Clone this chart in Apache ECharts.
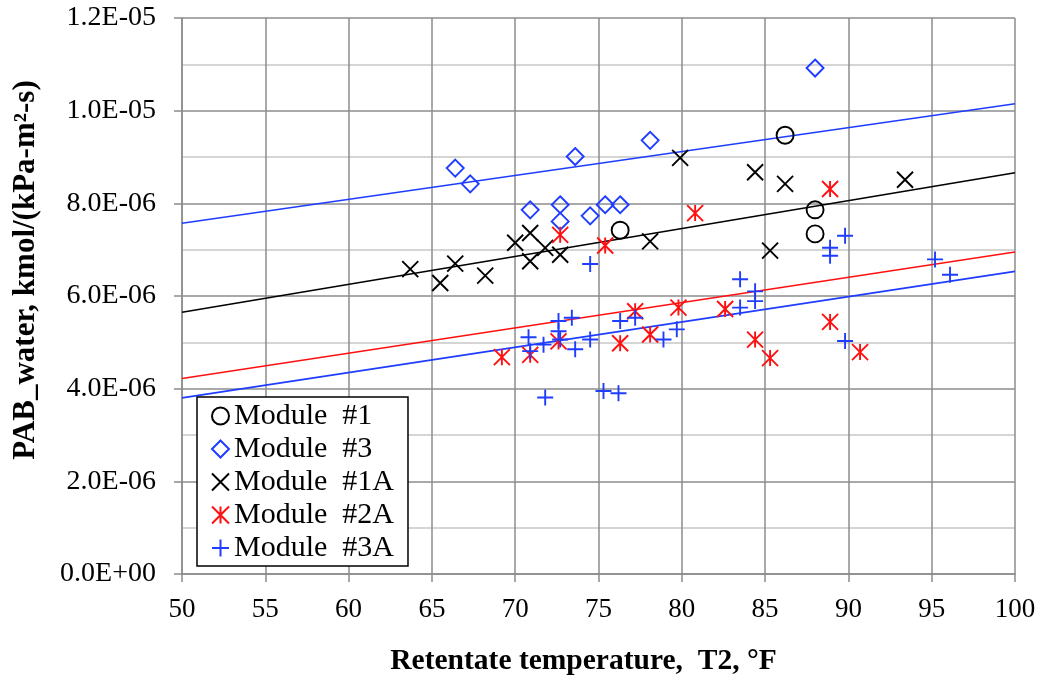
<!DOCTYPE html>
<html>
<head>
<meta charset="utf-8">
<script src="https://cdn.jsdelivr.net/npm/echarts@6/dist/echarts.min.js"></script>
<style>
  html, body { margin: 0; padding: 0; background: #fff; }
  #chart { width: 1046px; height: 681px; }
</style>
</head>
<body>
<div id="chart"></div>
<script>
// Water permeance vs. retentate temperature, per module (values in 1E-06 kmol/(kPa-m²-s))
const module1T = [76.3, 86.2, 88.0, 88.0];
const module1P = [7.42, 9.47, 7.86, 7.34];

const module3T = [66.4, 67.3, 70.9, 72.7, 72.7, 73.6, 74.5, 75.4, 76.3, 78.1, 88.0];
const module3P = [8.76, 8.42, 7.86, 7.97, 7.61, 9.01, 7.73, 7.97, 7.97, 9.36, 10.92];

const module1AT = [63.7, 65.5, 66.4, 68.2, 70.0, 70.9, 70.9, 71.8, 72.7, 78.1, 79.9, 84.4, 85.3, 86.2, 93.4];
const module1AP = [6.58, 6.28, 6.70, 6.44, 7.15, 7.36, 6.75, 7.04, 6.89, 7.18, 8.98, 8.67, 6.98, 8.42, 8.51];

const module2AT = [69.2, 70.9, 72.6, 72.7, 75.4, 76.3, 77.2, 78.1, 79.8, 80.8, 82.6, 84.4, 85.3, 88.9, 88.9, 90.7];
const module2AP = [4.68, 4.73, 5.02, 7.32, 7.09, 4.98, 5.67, 5.17, 5.75, 7.79, 5.72, 5.06, 4.66, 5.44, 8.31, 4.79];

const module3AT = [70.8, 70.9, 71.7, 72.6, 72.6, 72.7, 73.4, 73.6, 74.5, 71.8, 75.3, 76.2, 76.3, 77.2, 78.9, 79.7,
                   83.5, 84.4, 84.4, 83.5, 74.5, 88.9, 88.9, 89.8, 89.8, 95.2, 96.1];
const module3AP = [5.11, 4.81, 4.95, 5.46, 5.24, 5.06, 5.53, 4.85, 5.06, 3.81, 3.95, 3.90, 5.46, 5.53, 5.06, 5.28,
                   6.36, 6.10, 5.89, 5.75, 6.69, 7.04, 6.87, 7.30, 5.03, 6.79, 6.46];

// Linear trend lines, endpoints at T2 = 50 and 100 °F
const trendT = [50, 100];
const trend3P = [7.57, 10.15];
const trend1AP = [5.65, 8.66];
const trend2AP = [4.22, 6.95];
const trend3AP = [3.80, 6.53];

const xTicks = { min: 50, max: 100, step: 5 };
const yTicks = { min: 0, max: 12, step: 2 };   // in units of 1E-06

const SCALE = 1e-6;
const pairs = (xs, ys) => xs.map((x, i) => [x, ys[i] * SCALE]);

const BLUE = '#1f3dff';
const RED = '#ff1010';
const BLACK = '#000000';
const FONT = '"Liberation Serif", "Times New Roman", serif';

const SYM_X = 'path://M0,0L10,10M10,0L0,10';
const SYM_STAR = 'path://M0,0L10,10M10,0L0,10M5,0L5,10';
const SYM_PLUS = 'path://M5,0L5,10M0,5L10,5';

function sciLabel(v) {
  if (Math.abs(v) < 1e-12) return '0.0E+00';
  const parts = v.toExponential(1).split('e');
  const sign = parts[1][0];
  const digits = parts[1].slice(1).padStart(2, '0');
  return parts[0] + 'E' + sign + digits;
}

function scatter(name, data, symbol, size, color) {
  return {
    name: name,
    type: 'scatter',
    data: data,
    symbol: symbol,
    symbolSize: size,
    silent: true,
    z: 3,
    itemStyle: { color: 'rgba(0,0,0,0)', borderColor: color, borderWidth: 1.9, opacity: 1 },
    emphasis: { disabled: true }
  };
}

function trend(data, color) {
  return {
    type: 'line',
    data: data,
    symbol: 'none',
    silent: true,
    z: 2,
    lineStyle: { color: color, width: 1.7 },
    emphasis: { disabled: true }
  };
}

const chart = echarts.init(document.getElementById('chart'), null, { renderer: 'canvas' });

chart.setOption({
  animation: false,
  backgroundColor: '#ffffff',
  grid: { left: 182, right: 31, top: 18, bottom: 106, containLabel: false },
  xAxis: {
    type: 'value',
    min: xTicks.min,
    max: xTicks.max,
    interval: xTicks.step,
    name: 'Retentate temperature,  T2, °F',
    nameLocation: 'middle',
    nameGap: 72,
    nameTextStyle: { fontFamily: FONT, fontWeight: 'bold', fontSize: 29.5, color: '#000', padding: [0, 30, 0, 0] },
    axisLine: { show: true, lineStyle: { color: '#8c8c8c', width: 1.5 } },
    axisTick: { show: true, inside: false, length: 8, lineStyle: { color: '#8c8c8c', width: 1.5 } },
    axisLabel: { fontFamily: FONT, fontSize: 27, color: '#000', margin: 22 },
    splitLine: { show: true, lineStyle: { color: '#8c8c8c', width: 1.5 } }
  },
  yAxis: {
    type: 'value',
    min: yTicks.min * SCALE,
    max: yTicks.max * SCALE,
    interval: yTicks.step * SCALE,
    name: 'PAB_water, kmol/(kPa-m²-s)',
    nameLocation: 'middle',
    nameRotate: 90,
    nameGap: 141,
    nameTextStyle: { fontFamily: FONT, fontWeight: 'bold', fontSize: 31, color: '#000', padding: [0, 0, 0, 52] },
    axisLine: { show: true, lineStyle: { color: '#8c8c8c', width: 1.5 } },
    axisTick: { show: true, inside: false, length: 8, lineStyle: { color: '#8c8c8c', width: 1.5 } },
    axisLabel: { fontFamily: FONT, fontSize: 28, color: '#000', margin: 26, formatter: sciLabel },
    splitLine: { show: true, lineStyle: { color: '#8c8c8c', width: 1.5 } },
    minorTick: { show: false, splitNumber: 2 },
    minorSplitLine: { show: true, lineStyle: { color: '#c8c8c8', width: 1.5 } }
  },
  legend: {
    orient: 'vertical',
    left: 197,
    top: 397,
    backgroundColor: '#ffffff',
    borderColor: '#000000',
    borderWidth: 1.5,
    borderRadius: 0,
    padding: [4, 14, 3, 14],
    itemWidth: 17,
    itemHeight: 17,
    itemGap: 3,
    selectedMode: false,
    textStyle: { fontFamily: FONT, fontSize: 30, color: '#000', lineHeight: 27 },
    data: ['Module  #1', 'Module  #3', 'Module  #1A', 'Module  #2A', 'Module  #3A']
  },
  series: [
    trend(pairs(trendT, trend3P), BLUE),
    trend(pairs(trendT, trend1AP), BLACK),
    trend(pairs(trendT, trend2AP), RED),
    trend(pairs(trendT, trend3AP), BLUE),
    scatter('Module  #1', pairs(module1T, module1P), 'circle', 17, BLACK),
    scatter('Module  #3', pairs(module3T, module3P), 'diamond', 17, BLUE),
    scatter('Module  #1A', pairs(module1AT, module1AP), SYM_X, 16, BLACK),
    scatter('Module  #2A', pairs(module2AT, module2AP), SYM_STAR, 16, RED),
    scatter('Module  #3A', pairs(module3AT, module3AP), SYM_PLUS, 16, BLUE)
  ]
});
</script>
</body>
</html>
